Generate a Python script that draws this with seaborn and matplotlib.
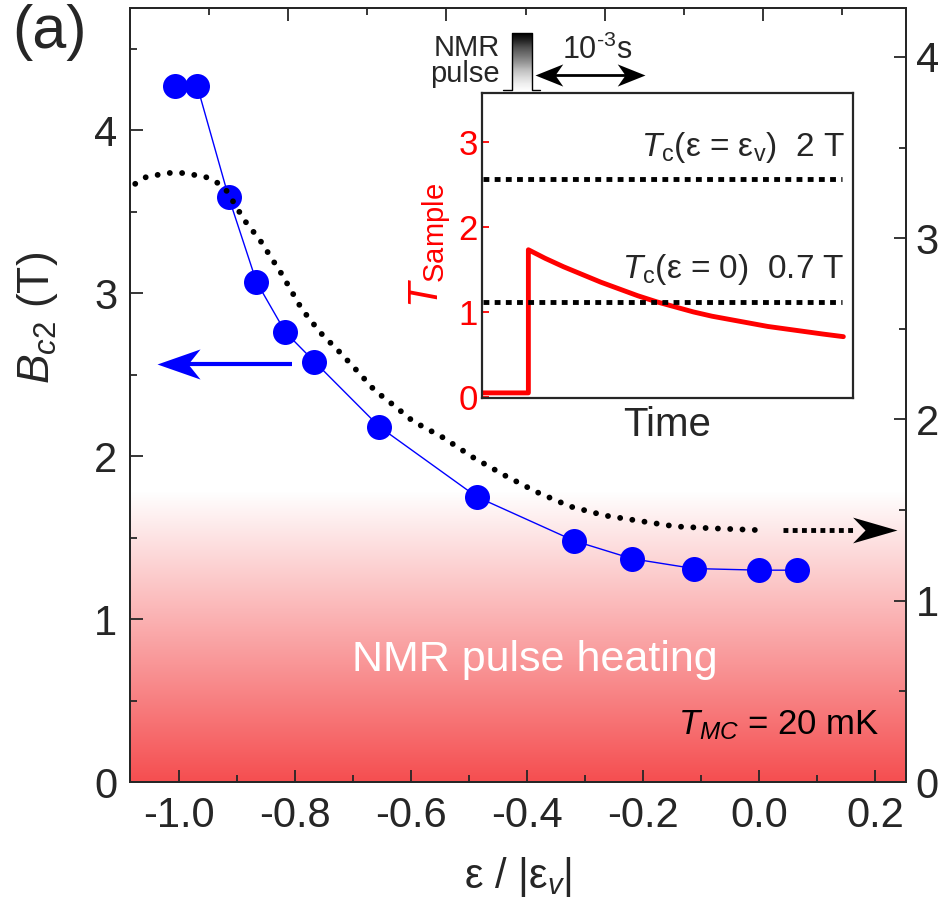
import numpy as np
import matplotlib
matplotlib.use("Agg")
import matplotlib.pyplot as plt
import seaborn as sns
from matplotlib.path import Path
from matplotlib.markers import MarkerStyle
from matplotlib.transforms import Affine2D
from matplotlib.colors import LinearSegmentedColormap
from matplotlib.ticker import MultipleLocator, NullFormatter

# upper critical field vs strain (left axis)
eps = [-1.007, -0.969, -0.915, -0.867, -0.817, -0.767, -0.655, -0.487,
       -0.319, -0.219, -0.113, 0.0, 0.065]
bc2 = [4.27, 4.27, 3.59, 3.07, 2.76, 2.58, 2.18, 1.75, 1.48, 1.37, 1.31, 1.30, 1.30]

# dotted curve (right axis)
tc_eps = [-1.076, -1.056, -1.036, -1.016, -0.996, -0.976, -0.956, -0.936, -0.918,
          -0.888, -0.861, -0.823, -0.789, -0.757, -0.723, -0.691, -0.663, -0.631,
          -0.597, -0.545, -0.493, -0.438, -0.384, -0.326, -0.266, -0.206, -0.145,
          -0.085, -0.004]
tc_val = [3.30, 3.34, 3.35, 3.36, 3.36, 3.35, 3.34, 3.31, 3.26,
          3.10, 2.99, 2.80, 2.61, 2.48, 2.37, 2.26, 2.16, 2.08,
          1.99, 1.90, 1.79, 1.69, 1.60, 1.52, 1.47, 1.44, 1.41,
          1.40, 1.39]

# inset: sample temperature after NMR pulse
t_time = [0.0, 0.125, 0.125, 0.17, 0.22, 0.27, 0.32, 0.37, 0.42, 0.47, 0.52,
          0.57, 0.62, 0.67, 0.72, 0.77, 0.82, 0.87, 0.92, 0.974]
t_sample = [0.05, 0.05, 1.73, 1.63, 1.53, 1.44, 1.35, 1.27, 1.19, 1.12, 1.06,
            1.00, 0.95, 0.91, 0.87, 0.83, 0.80, 0.77, 0.74, 0.71]
tc_levels = [2.56, 1.12]
tc_labels = [r'$T_{\rm c}$(ε = ε$_{\rm v}$)  2 T', r'$T_{\rm c}$(ε = 0)  0.7 T']

W, H = 945, 917

sns.set_style("ticks")
plt.rcParams['font.family'] = ['Liberation Sans', 'DejaVu Sans']
plt.rcParams['mathtext.fontset'] = 'custom'
plt.rcParams['mathtext.rm'] = 'Liberation Sans'
plt.rcParams['mathtext.it'] = 'Liberation Sans:italic'
plt.rcParams['mathtext.bf'] = 'Liberation Sans:bold'
plt.rcParams['axes.unicode_minus'] = False
plt.rcParams['axes.linewidth'] = 1.4


def arrow_head(ax, x, y, size, color, angle=0, width=0.35, **kw):
    # notched arrow head, tip at (x, y)
    verts = [(0, 0), (-1, width), (-0.72, 0), (-1, -width), (0, 0)]
    codes = [Path.MOVETO, Path.LINETO, Path.LINETO, Path.LINETO, Path.CLOSEPOLY]
    m = MarkerStyle(Path(verts, codes), transform=Affine2D().rotate_deg(angle))
    ax.plot([x], [y], marker=m, markersize=size, color=color, mec=color, mew=0,
            ls='none', **kw)


fig = plt.figure(figsize=(W / 100, H / 100), dpi=100)
ax = fig.add_axes([130 / W, 1 - 782 / H, 776 / W, 774 / H])

xmin, xmax = -1.085, 0.253

# heating gradient
cmap = LinearSegmentedColormap.from_list('heat', ['#ffffff', '#f54e50'])
ax.imshow(np.linspace(0, 1, 256).reshape(-1, 1), extent=[xmin, xmax, 0, 1.78],
          aspect='auto', cmap=cmap, origin='upper', zorder=0)

sns.lineplot(x=eps, y=bc2, ax=ax, color='#0000ff', lw=1, marker='o',
             markersize=18, markeredgewidth=0, zorder=3)

# blue arrow -> left axis
ax.plot([-0.806, -1.0], [2.567, 2.567], color='#0000ff', lw=3, solid_capstyle='butt', zorder=3)
arrow_head(ax, -1.038, 2.567, 62, '#0000ff', angle=180, width=0.35, zorder=3)

ax.text(-0.387, 0.68, 'NMR pulse heating', color='white', fontsize=31,
        ha='center', va='baseline', zorder=2)
ax.text(0.208, 0.29, r'$T_{MC}$ = 20 mK', color='black', fontsize=25,
        ha='right', va='baseline', zorder=2)

ax.set_xlim(xmin, xmax)
ax.set_ylim(0, 4.75)
ax.xaxis.set_major_locator(MultipleLocator(0.2))
ax.xaxis.set_minor_locator(MultipleLocator(0.1))
ax.yaxis.set_major_locator(MultipleLocator(1))
ax.yaxis.set_minor_locator(MultipleLocator(0.5))
ax.tick_params(which='both', direction='in', labelsize=30, width=1.3)
ax.tick_params(which='major', length=9)
ax.tick_params(which='minor', length=5)
ax.tick_params(axis='x', pad=10)
ax.tick_params(axis='y', pad=9)
ax.set_xlabel('ε / |ε$_{v}$|', fontsize=30, labelpad=14)
ax.set_ylabel(r'$B_{c2}$ (T)', fontsize=32)
ax.yaxis.set_label_coords(-0.09, 0.6)

# right axis with dotted curve
ax2 = ax.twinx()
sns.lineplot(x=tc_eps, y=tc_val, ax=ax2, color='black', lw=4.2,
             linestyle=(0, (0.01, 2.1)), dash_capstyle='round')
ax2.plot([0.041, 0.165], [1.388, 1.388], color='black', lw=3.5, ls=(0, (1, 0.9)))
arrow_head(ax2, 0.237, 1.388, 64, 'black', angle=0, width=0.29)
ax2.set_ylim(0, 4.27)
ax2.yaxis.set_major_locator(MultipleLocator(1))
ax2.yaxis.set_minor_locator(MultipleLocator(0.5))
ax2.tick_params(which='both', direction='in', labelsize=30, width=1.3, pad=7)
ax2.tick_params(which='major', length=9)
ax2.tick_params(which='minor', length=5)
ax2.set_ylabel('')

# top axis ticks
ax3 = ax.twiny()
ax3.set_xlim(0, 4.905)
ax3.xaxis.set_major_locator(MultipleLocator(1))
ax3.xaxis.set_minor_locator(MultipleLocator(0.5))
ax3.xaxis.set_major_formatter(NullFormatter())
ax3.tick_params(which='both', direction='in', width=1.3)
ax3.tick_params(which='major', length=9)
ax3.tick_params(which='minor', length=5)

# inset
ins = fig.add_axes([482 / W, 1 - 398 / H, 371 / W, 305 / H])
ins.set_facecolor('white')
sns.lineplot(x=t_time, y=t_sample, ax=ins, color='#ff0000', lw=3.5,
             sort=False, estimator=None)
ins.hlines(tc_levels, 0.003, 0.97, colors='black', lw=3.5, linestyles=(0, (1.2, 1.1)))
for lev, lab in zip(tc_levels, tc_labels):
    ins.text(0.978, lev + 0.17, lab, fontsize=24, ha='right', va='bottom')
ins.set_xlim(0, 1)
ins.set_ylim(-0.01, 3.57)
ins.set_xticks([])
ins.yaxis.set_major_locator(MultipleLocator(1))
ins.tick_params(axis='y', direction='in', length=5, width=1.3, color='red',
                labelcolor='red', labelsize=25, pad=3)
ins.set_xlabel('Time', fontsize=29, labelpad=6)
ins.set_ylabel(r'$T_{\rm Sample}$', color='red', fontsize=30, labelpad=4)
for s in ins.spines.values():
    s.set_linewidth(1.6)

# 10^-3 s double arrow above inset
ins.plot([0.17, 0.41], [3.78, 3.78], color='black', lw=2, clip_on=False)
arrow_head(ins, 0.143, 3.78, 40, 'black', angle=180, width=0.4, clip_on=False)
arrow_head(ins, 0.44, 3.78, 40, 'black', angle=0, width=0.4, clip_on=False)
ins.text(0.31, 4.07, '10$^{\u20103}$s', fontsize=22, ha='center', va='center', clip_on=False)

# NMR pulse sketch
pax = fig.add_axes([512 / W, 1 - 90 / H, 20 / W, 57 / H])
pax.imshow(np.linspace(1, 0.03, 100).reshape(-1, 1), cmap='Greys', aspect='auto',
           extent=[0, 1, 0, 1], origin='upper', vmin=0, vmax=1)
pax.plot([-0.45, 0, 0, 1, 1, 1.4], [0, 0, 1, 1, 0, 0], color='black', lw=1, clip_on=False)
pax.set_xlim(0, 1)
pax.set_ylim(0, 1)
pax.axis('off')
fig.text(500 / W, 1 - 61 / H, 'NMR\npulse', fontsize=21, ha='right', va='center',
         multialignment='right', linespacing=0.95)

fig.text(12 / W, 1 - 4 / H, '(a)', fontsize=44, ha='left', va='top')

fig.savefig('out.png', dpi=100)
